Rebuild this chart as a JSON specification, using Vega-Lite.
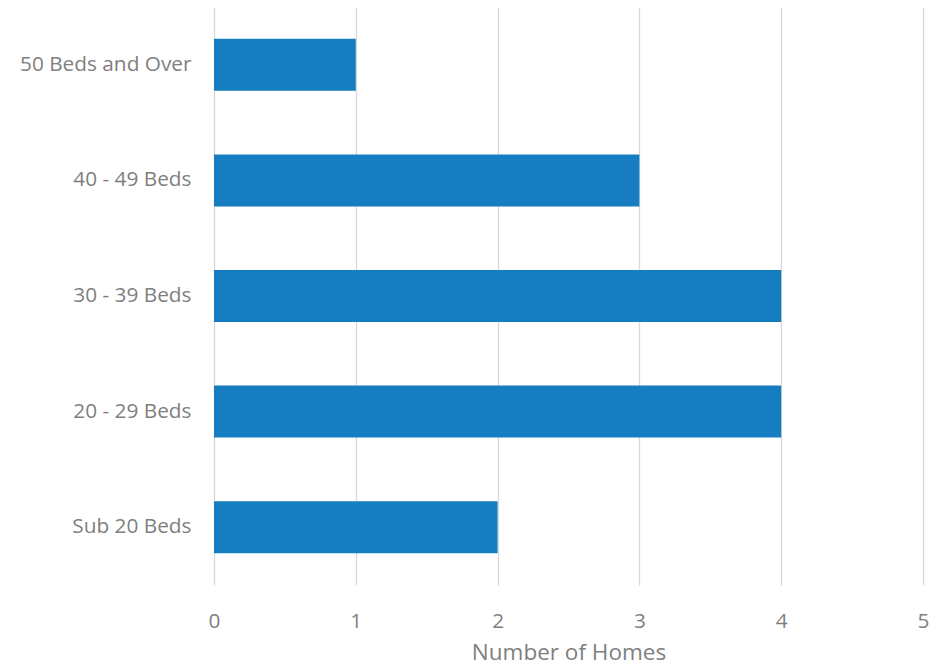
{
  "$schema": "https://vega.github.io/schema/vega-lite/v6.json",
  "width": 709,
  "height": 578,
  "autosize": {"type": "none"},
  "padding": {"left": 214, "top": 7, "right": 17, "bottom": 83},
  "background": "white",
  "config": {"view": {"stroke": null}, "font": "Open Sans"},
  "data": {"values": [
    {"category": "50 Beds and Over", "homes": 1},
    {"category": "40 - 49 Beds", "homes": 3},
    {"category": "30 - 39 Beds", "homes": 4},
    {"category": "20 - 29 Beds", "homes": 4},
    {"category": "Sub 20 Beds", "homes": 2}
  ]},
  "mark": {"type": "bar", "color": "#177dc1"},
  "encoding": {
    "y": {"field": "category", "type": "nominal", "sort": null,
      "scale": {"paddingInner": 0.55, "paddingOuter": 0.275},
      "axis": {"title": null, "domain": false, "ticks": false, "labelFontSize": 20.8, "labelColor": "#7f7f7f", "labelPadding": 23, "labelFont": "Open Sans", "labelLimit": 300}},
    "x": {"field": "homes", "type": "quantitative",
      "scale": {"domain": [0, 5]},
      "axis": {"title": "Number of Homes", "values": [0,1,2,3,4,5], "domain": false, "ticks": false,
        "labelFlush": false, "labelOverlap": false,
        "grid": true, "gridColor": "#d9d9d9", "gridWidth": 1.3,
        "labelFontSize": 20.8, "labelColor": "#7f7f7f", "labelPadding": 26, "labelFont": "Open Sans",
        "titleFontSize": 22.5, "titleFontWeight": "normal", "titleColor": "#7f7f7f", "titlePadding": 11, "titleFont": "Open Sans"}}
  }
}
